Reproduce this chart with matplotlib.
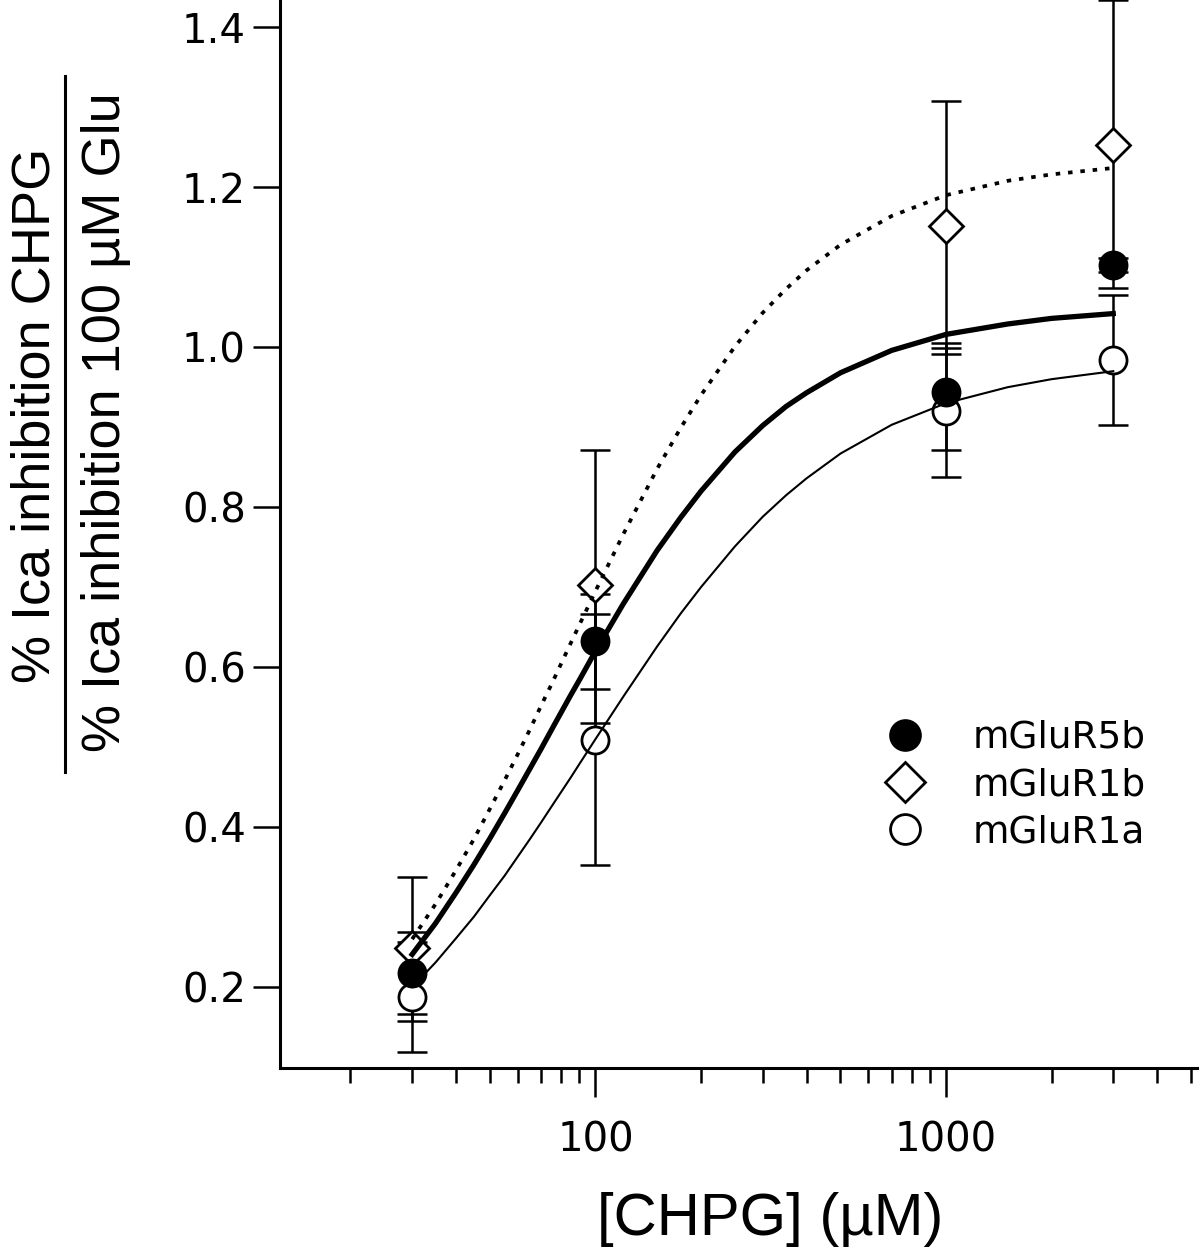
import matplotlib
matplotlib.use("Agg")
import matplotlib.pyplot as plt
from matplotlib.lines import Line2D
from matplotlib.ticker import LogLocator, NullFormatter

## Data ##
conc = [30, 100, 1000, 3000]   # [CHPG] (uM)
names = ['mGluR5b', 'mGluR1b', 'mGluR1a']

r5b = [0.2175, 0.6325, 0.944, 1.1025]
r5b_lo = [0.166, 0.573, 0.872, 1.094]
r5b_hi = [0.269, 0.692, 1.0055, 1.111]

r1b = [0.249, 0.7025, 1.151, 1.2525]
r1b_lo = [0.158, 0.5296, 0.992, 1.0746]
r1b_hi = [0.338, 0.872, 1.3075, 1.434]

r1a = [0.1875, 0.509, 0.92, 0.984]
r1a_lo = [0.119, 0.3525, 0.838, 0.9025]
r1a_hi = [0.256, 0.667, 0.999, 1.065]

# fitted curves
fit_x = [30, 35, 40, 45, 50, 55, 60, 65, 70, 75, 85, 90, 100, 120, 150, 175, 200, 250, 300,
         350, 400, 500, 700, 1000, 1500, 2000, 3000]
fit_5b = [0.241, 0.280, 0.318, 0.353, 0.386, 0.417, 0.446, 0.473, 0.498, 0.522, 0.565, 0.584,
          0.620, 0.679, 0.746, 0.787, 0.820, 0.869, 0.902, 0.926, 0.943, 0.968, 0.996, 1.016,
          1.029, 1.036, 1.042]
fit_1b = [0.260, 0.304, 0.346, 0.385, 0.423, 0.458, 0.491, 0.522, 0.552, 0.579, 0.630, 0.653,
          0.695, 0.766, 0.848, 0.899, 0.940, 1.001, 1.043, 1.073, 1.096, 1.128, 1.164, 1.190,
          1.208, 1.216, 1.224]
fit_1a = [0.200, 0.231, 0.261, 0.288, 0.315, 0.339, 0.363, 0.385, 0.406, 0.426, 0.462, 0.479,
          0.510, 0.563, 0.626, 0.667, 0.700, 0.751, 0.788, 0.815, 0.836, 0.867, 0.903, 0.930,
          0.950, 0.960, 0.970]

yticks = [0.2, 0.4, 0.6, 0.8, 1.0, 1.2, 1.4]
ytick_labels = ['0.2', '0.4', '0.6', '0.8', '1.0', '1.2', '1.4']
xticks = [100, 1000]
xtick_labels = ['100', '1000']

## Figure ##
fig = plt.figure(figsize=(12, 12.52), dpi=100)
ax = fig.add_axes([0.2333, 0.1470, 0.7642, 0.8530])
ax.set_xscale('log')
ax.set_xlim(12.59, 5200)
ax.set_ylim(0.099, 1.434)

# error bars
for y, lo, hi in [(r1a, r1a_lo, r1a_hi), (r1b, r1b_lo, r1b_hi), (r5b, r5b_lo, r5b_hi)]:
    err = [[v - l for v, l in zip(y, lo)], [h - v for v, h in zip(y, hi)]]
    ax.errorbar(conc, y, yerr=err, fmt='none', ecolor='k', elinewidth=1.8,
                capsize=11, capthick=1.8, zorder=2, clip_on=False)

# markers
ax.plot(conc, r1a, ls='none', marker='o', ms=19.5, mfc='white', mec='k', mew=2, zorder=3)
ax.plot(conc, r1b, ls='none', marker='D', ms=17.5, mfc='white', mec='k', mew=2, zorder=3)
ax.plot(conc, r5b, ls='none', marker='o', ms=19.5, mfc='k', mec='k', mew=2, zorder=3)

# fits
ax.plot(fit_x, fit_1b, color='k', lw=2.7, ls=(0, (1.2, 2.1)), zorder=4)
ax.plot(fit_x, fit_5b, color='k', lw=3.8, zorder=4)
ax.plot(fit_x, fit_1a, color='k', lw=1.5, zorder=4)

# axes styling
for s in ['top', 'right']:
    ax.spines[s].set_visible(False)
for s in ['left', 'bottom']:
    ax.spines[s].set_linewidth(2.2)

ax.set_xticks(xticks)
ax.set_xticklabels(xtick_labels)
ax.xaxis.set_minor_locator(LogLocator(base=10, subs=range(2, 10)))
ax.xaxis.set_minor_formatter(NullFormatter())
ax.set_yticks(yticks)
ax.set_yticklabels(ytick_labels)
ax.tick_params(axis='x', which='major', direction='out', length=21, width=1.8, labelsize=29, pad=17)
ax.tick_params(axis='x', which='minor', direction='out', length=11, width=1.8)
ax.tick_params(axis='y', which='major', direction='out', length=19.5, width=1.8, labelsize=29, pad=5)
ax.tick_params(axis='y', which='minor', left=False)

# legend
handles = [Line2D([], [], ls='none', marker='o', ms=21.5, mfc='k', mec='k', mew=2),
           Line2D([], [], ls='none', marker='D', ms=20, mfc='white', mec='k', mew=2),
           Line2D([], [], ls='none', marker='o', ms=21.5, mfc='white', mec='k', mew=2)]
ax.legend(handles, names, loc='center left', bbox_to_anchor=(886 / 1200, 1 - 785 / 1252),
          bbox_transform=fig.transFigure, frameon=False, fontsize=27, handlelength=1.0,
          handletextpad=1.32, labelspacing=0.30, borderpad=0, borderaxespad=0, numpoints=1)

# axis labels
lab = dict(family='Liberation Sans', color='k')
fig.text(770 / 1200, (1252 - 1235) / 1252, '[CHPG] (µM)', ha='center', va='baseline', size=43, **lab)
fig.text(36 / 1200, 1 - 415 / 1252, '% Ica inhibition CHPG', rotation=90,
         ha='center', va='center', size=39, **lab)
fig.text(106 / 1200, 1 - 422 / 1252, '% Ica inhibition 100 µM Glu', rotation=90,
         ha='center', va='center', size=39, **lab)
fig.add_artist(Line2D([65 / 1200, 65 / 1200], [1 - 76 / 1252, 1 - 772 / 1252],
                      transform=fig.transFigure, color='k', lw=2.2))

fig.savefig('out.png', dpi=100)
